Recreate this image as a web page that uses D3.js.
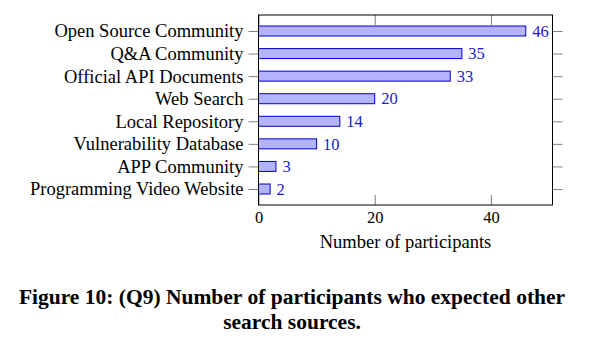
<!DOCTYPE html>
<html><head><meta charset="utf-8">
<script src="https://cdn.jsdelivr.net/npm/d3@7"></script>
<style>body{margin:0;background:#fff}svg{display:block}</style>
</head><body><svg id="c" width="604" height="360"></svg>
<script>
const categories = ["Open Source Community","Q&A Community","Official API Documents","Web Search","Local Repository","Vulnerability Database","APP Community","Programming Video Website"];
const values = [46,35,33,20,14,10,3,2];
const xTicks = [0,20,40];
const xLabel = "Number of participants";
const caption1 = "Figure 10: (Q9) Number of participants who expected other";
const caption2 = "search sources.";

const svg = d3.select("#c");
const font = "'Liberation Serif','DejaVu Serif',serif";
const L = 258.5, R = 552.5, T = 15, B = 205;
const x = d3.scaleLinear().domain([0, 50.6]).range([L, R]);
const y = d3.scalePoint().domain(categories).range([T + 16, B - 16]);
const barH = 10;

const g = svg.append("g");
g.selectAll("rect.bar").data(values).join("rect")
  .attr("x", x(0)).attr("y", (d,i) => y(categories[i]) - barH/2)
  .attr("width", d => x(d) - x(0)).attr("height", barH)
  .attr("fill", "#b3b3ff").attr("stroke", "#0000cc").attr("stroke-width", 1);
g.selectAll("text.val").data(values).join("text")
  .attr("x", d => x(d) + 6.5).attr("y", (d,i) => y(categories[i]))
  .attr("dy", "0.35em").attr("fill", "#1a1acc")
  .style("font-family", font).style("font-size", "16.5px").text(d => d);

const yl = svg.append("g").attr("transform", `translate(${L},0)`)
  .call(d3.axisLeft(y).tickSize(10).tickPadding(5));
yl.select(".domain").remove();
yl.selectAll("line").attr("stroke", "#808080");
yl.selectAll("text").style("font-family", font).style("font-size", "18.5px").attr("fill", "#000");
const yr = svg.append("g").attr("transform", `translate(${R},0)`)
  .call(d3.axisRight(y).tickSize(10).tickFormat(""));
yr.select(".domain").remove();
yr.selectAll("line").attr("stroke", "#808080");

const xb = svg.append("g").attr("transform", `translate(0,${B})`)
  .call(d3.axisBottom(x).tickValues(xTicks).tickSize(-10).tickPadding(6));
xb.select(".domain").remove();
xb.selectAll("line").attr("stroke", "#808080");
xb.selectAll("text").style("font-family", font).style("font-size", "16.5px").attr("fill", "#000");
const xt = svg.append("g").attr("transform", `translate(0,${T})`)
  .call(d3.axisTop(x).tickValues(xTicks).tickSize(-10).tickFormat(""));
xt.select(".domain").remove();
xt.selectAll("line").attr("stroke", "#808080");

svg.append("rect").attr("x", L).attr("y", T).attr("width", R - L).attr("height", B - T)
  .attr("fill", "none").attr("stroke", "#000").attr("stroke-width", 1);

svg.append("text").attr("x", (L+R)/2).attr("y", 248).attr("text-anchor", "middle")
  .style("font-family", font).style("font-size", "18.5px").text(xLabel);

svg.append("text").attr("x", 292).attr("y", 304).attr("text-anchor", "middle")
  .style("font-family", font).style("font-size", "21.5px").style("font-weight", "bold").text(caption1);
svg.append("text").attr("x", 292).attr("y", 329).attr("text-anchor", "middle")
  .style("font-family", font).style("font-size", "21.5px").style("font-weight", "bold").text(caption2);
</script></body></html>
